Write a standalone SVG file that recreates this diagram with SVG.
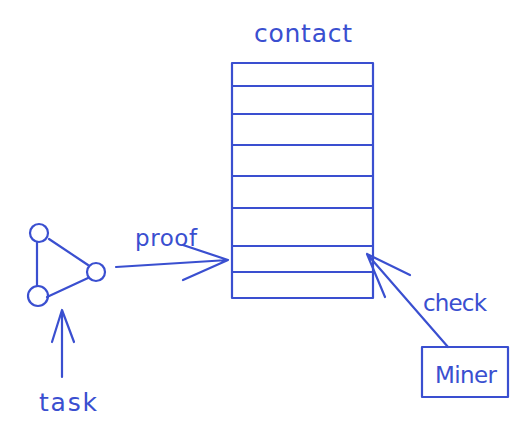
<svg xmlns="http://www.w3.org/2000/svg" width="524" height="428" viewBox="0 0 524 428">
<style>
.s{fill:none;stroke:#3a4fd0;stroke-width:2.2;stroke-linecap:round;stroke-linejoin:round}
.t{fill:#3a4fd0;font-family:"DejaVu Sans","Liberation Sans",sans-serif;font-size:23px}
.big{font-size:25px}
</style>
<rect width="524" height="428" fill="#ffffff"/>
<g id="contact">
<rect class="s" x="232" y="63" width="141" height="235"/>
<path class="s" d="M233 86H372M233 114H372M233 145H372M233 176H372M233 208H372M233 246H372M233 272H372"/>
<text class="t big" x="254" y="42" textLength="98" lengthAdjust="spacing">contact</text>
</g>
<g id="graph">
<circle class="s" cx="39" cy="233" r="9"/>
<circle class="s" cx="96" cy="272" r="9"/>
<circle class="s" cx="38" cy="296" r="10"/>
<path class="s" d="M37 242V286M49 239L88 265M47 297L88 278"/>
</g>
<g id="miner">
<rect class="s" x="422" y="347" width="86" height="50"/>
<text class="t" x="435" y="383" textLength="62" lengthAdjust="spacing">Miner</text>
</g>
<g id="labels">
<text class="t" x="135" y="246" textLength="62" lengthAdjust="spacing">proof</text>
<text class="t big" x="39" y="411" textLength="58" lengthAdjust="spacing">task</text>
<text class="t" x="423" y="311" textLength="64" lengthAdjust="spacing">check</text>
</g>
<g id="connectors">
<path class="s" d="M116 267L228 260M183 245L228 260L183 280"/>
<path class="s" d="M62 377V310M52 342L62 310L74 342"/>
<path class="s" d="M448 347L367 254M410 275L367 254L385 297"/>
</g>
</svg>
